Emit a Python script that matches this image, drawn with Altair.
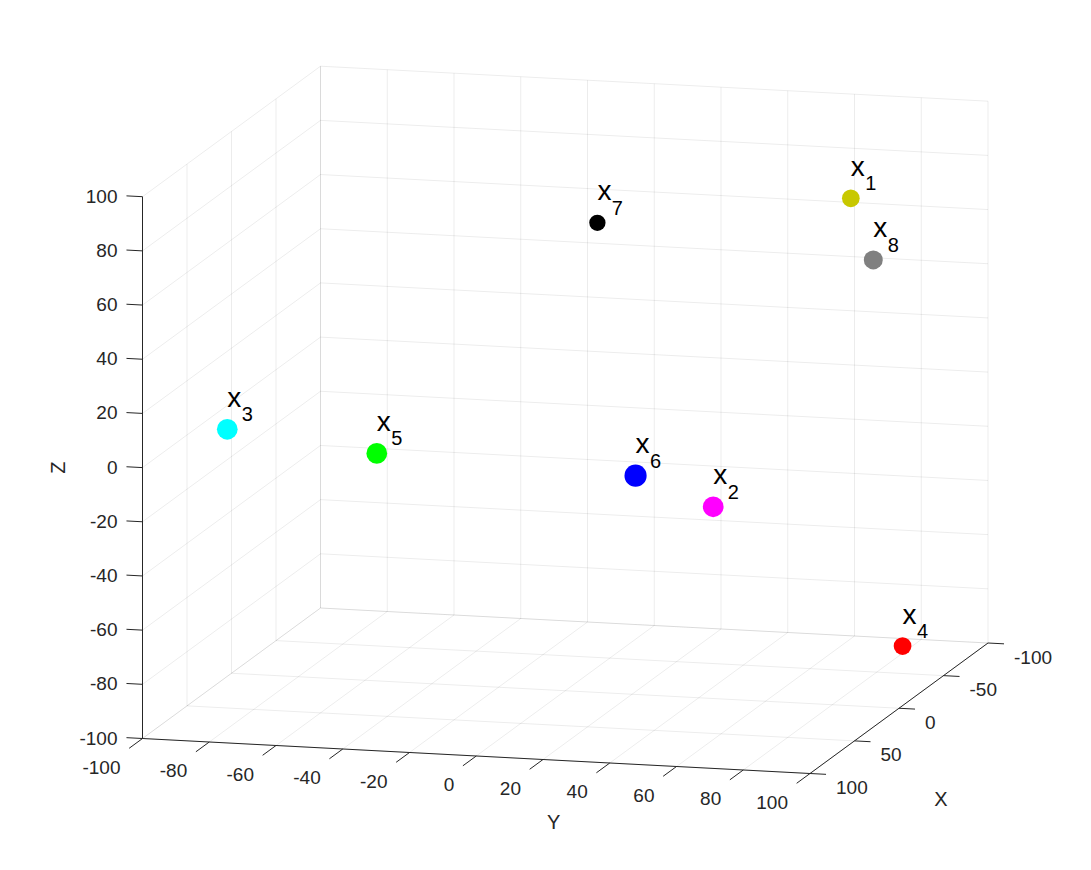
import altair as alt
import pandas as pd

# ---------------- data ----------------
point_ids = ["1", "2", "3", "4", "5", "6", "7", "8"]
point_x = [-40, 40, 40, -40, 40, 80, -80, 0]
point_y = [74.9, 55.0, -90.6, 90.4, -45.8, 42.4, -11.7, 92.3]
point_z = [77.0, -18.9, 0.3, -87.3, -5.7, 1.4, 52.7, 65.0]
point_radius = [10.0, 11.7, 11.7, 10.0, 11.7, 12.5, 9.2, 10.7]
point_colors = ["#c8c800", "#ff00ff", "#00ffff", "#ff0000",
                "#00ff00", "#0000ff", "#000000", "#808080"]

x_ticks = [-100, -50, 0, 50, 100]
y_ticks = [-100, -80, -60, -40, -20, 0, 20, 40, 60, 80, 100]
z_ticks = [-100, -80, -60, -40, -20, 0, 20, 40, 60, 80, 100]

LO, HI = -100, 100

# ---------------- view geometry (orthographic projection) ----------------
U0, UX, UY = 565.25, -0.89, 3.3375
V0, VX, VY, VZ = 419.85, 0.6525, 0.175, -2.709


def U(s=""):
    return f"{U0} + ({UX})*datum.X{s} + ({UY})*datum.Y{s}"


def V(s=""):
    return f"{V0} + ({VX})*datum.X{s} + ({VY})*datum.Y{s} + ({VZ})*datum.Z{s}"


W, H = 1075, 854
xs = alt.Scale(domain=[8, 8 + W], range=[0, W], nice=False, zero=False)
ys = alt.Scale(domain=[8, 8 + H], reverse=True, nice=False, zero=False)
FONT = "Liberation Sans"
AXC = "#262626"

# ---------------- tables ----------------
points = pd.DataFrame({"id": point_ids, "X": point_x, "Y": point_y, "Z": point_z,
                       "r": point_radius, "color": point_colors})

grid_rows = []
for y in y_ticks:  # back wall (X = -100)
    grid_rows.append((LO, y, LO, LO, y, HI))
    grid_rows.append((LO, y, LO, HI, y, LO))  # floor
for z in z_ticks:
    grid_rows.append((LO, LO, z, LO, HI, z))  # back wall
    grid_rows.append((LO, LO, z, HI, LO, z))  # left wall (Y = -100)
for x in x_ticks:
    grid_rows.append((x, LO, LO, x, LO, HI))  # left wall
    grid_rows.append((x, LO, LO, x, HI, LO))  # floor
grid = pd.DataFrame(grid_rows, columns=["X1", "Y1", "Z1", "X2", "Y2", "Z2"])

axes = pd.DataFrame([
    (HI, LO, LO, HI, LO, HI),   # Z axis
    (HI, LO, LO, HI, HI, LO),   # Y axis
    (LO, HI, LO, HI, HI, LO),   # X axis
], columns=["X1", "Y1", "Z1", "X2", "Y2", "Z2"])

tick_rows = []
for z in z_ticks:
    tick_rows.append((HI, LO, z, HI, LO - 4.8, z))
for y in y_ticks:
    tick_rows.append((HI, y, LO, HI + 15, y, LO))
for x in x_ticks:
    tick_rows.append((x, HI, LO, x, HI + 4.8, LO))
ticks = pd.DataFrame(tick_rows, columns=["X1", "Y1", "Z1", "X2", "Y2", "Z2"])

zlab = pd.DataFrame({"X": HI, "Y": LO, "Z": z_ticks, "t": [str(v) for v in z_ticks]})
ylab = pd.DataFrame({"X": HI, "Y": y_ticks, "Z": LO, "t": [str(v) for v in y_ticks]})
xlab = pd.DataFrame({"X": x_ticks, "Y": HI, "Z": LO, "t": [str(v) for v in x_ticks]})


def seg_chart(df, color, opacity, width):
    return alt.Chart(df).transform_calculate(
        u1=U("1"), v1=V("1"), u2=U("2"), v2=V("2")
    ).mark_rule(color=color, opacity=opacity, strokeWidth=width).encode(
        x=alt.X("u1:Q", scale=xs, axis=None),
        y=alt.Y("v1:Q", scale=ys, axis=None),
        x2="u2:Q", y2="v2:Q",
    )


def text_chart(df, **mk):
    return alt.Chart(df).transform_calculate(u=U(), v=V()).mark_text(
        font=FONT, **mk
    ).encode(
        x=alt.X("u:Q", scale=xs, axis=None),
        y=alt.Y("v:Q", scale=ys, axis=None),
        text="t:N",
    )


grid_layer = seg_chart(grid, "#000000", 0.075, 1)
axis_layer = seg_chart(axes, AXC, 1, 1)
tick_layer = seg_chart(ticks, AXC, 1, 1)

zlab_layer = text_chart(zlab, align="right", baseline="middle", dx=-25, fontSize=19, color=AXC)
ylab_layer = text_chart(ylab, align="right", baseline="middle", dx=-22, dy=29, fontSize=19, color=AXC)
xlab_layer = text_chart(xlab, align="left", baseline="middle", dx=26, dy=14.5, fontSize=19, color=AXC)

ztitle = text_chart(pd.DataFrame({"X": [HI], "Y": [LO], "Z": [0], "t": ["Z"]}),
                    align="center", baseline="middle", angle=270, dy=-83.5,
                    fontSize=20, color=AXC)
ytitle = text_chart(pd.DataFrame({"X": [HI], "Y": [0], "Z": [LO], "t": ["Y"]}),
                    align="center", baseline="middle", dx=77.5, dy=66.5,
                    fontSize=20, color=AXC)
xtitle = text_chart(pd.DataFrame({"X": [0], "Y": [HI], "Z": [LO], "t": ["X"]}),
                    align="center", baseline="middle", dx=42, dy=92,
                    fontSize=20, color=AXC)

pts_base = alt.Chart(points).transform_calculate(
    u=U(), v=V(), size="PI*datum.r*datum.r"
)
dots = pts_base.mark_circle(opacity=1).encode(
    x=alt.X("u:Q", scale=xs, axis=None),
    y=alt.Y("v:Q", scale=ys, axis=None),
    size=alt.Size("size:Q", scale=None, legend=None),
    color=alt.Color("color:N", scale=None, legend=None),
)
lab_x = pts_base.transform_calculate(t="'x'").mark_text(
    font=FONT, fontSize=28, align="center", baseline="alphabetic",
    dx=7, dy=-22.5, color="#000000"
).encode(
    x=alt.X("u:Q", scale=xs, axis=None),
    y=alt.Y("v:Q", scale=ys, axis=None),
    text="t:N",
)
lab_sub = pts_base.mark_text(
    font=FONT, fontSize=20, align="center", baseline="alphabetic",
    dx=20, dy=-8, color="#000000"
).encode(
    x=alt.X("u:Q", scale=xs, axis=None),
    y=alt.Y("v:Q", scale=ys, axis=None),
    text="id:N",
)

chart = alt.layer(
    grid_layer, axis_layer, tick_layer,
    zlab_layer, ylab_layer, xlab_layer,
    ztitle, ytitle, xtitle,
    dots, lab_x, lab_sub,
).properties(
    width=W, height=H, autosize=alt.AutoSizeParams(type="none"), padding=0,
    background="white",
).configure_view(strokeWidth=0)

chart.save("out.html", embed_options={"renderer": "svg", "actions": False})
